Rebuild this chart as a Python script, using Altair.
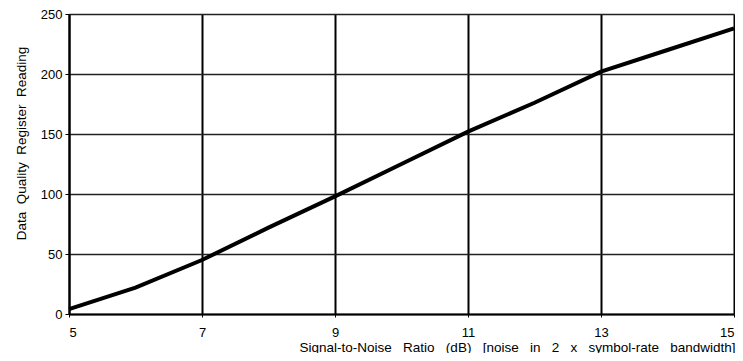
import altair as alt
import pandas as pd

snr = [5, 6, 7, 8, 9, 10, 11, 12, 13, 14, 15]
reading = [4, 22, 45, 72, 98, 125, 152, 176, 202, 220, 238]
x_ticks = [5, 7, 9, 11, 13, 15]
y_ticks = [0, 50, 100, 150, 200, 250]

NB = "\u00a0"
x_title_words = ["Signal-to-Noise", "Ratio", "(dB)", "[noise", "in", "2", "x",
                 "symbol-rate", "bandwidth]"]
y_title_words = ["Data", "Quality", "Register", "Reading"]
x_title = (NB + NB + " ").join(x_title_words)
y_title = (NB + " ").join(y_title_words)

df = pd.DataFrame({"snr": snr, "reading": reading})

FONT = "Liberation Sans"
W, H = 665, 300

chart = alt.Chart(df).mark_line(color="black", strokeWidth=4).encode(
    x=alt.X("snr:Q",
            scale=alt.Scale(domain=[5, 15], nice=False, zero=False),
            axis=alt.Axis(values=x_ticks, grid=True, gridColor="black",
                          gridWidth=2, domainColor="black", domainWidth=2,
                          tickColor="black", tickSize=3, labelFont=FONT, labelFontSize=13,
                          labelColor="black", labelPadding=9,
                          title=x_title,
                          titleFont=FONT, titleFontSize=13.5, titleFontWeight="normal",
                          titleColor="black", titleAnchor="end", titleAlign="right",
                          titleBaseline="alphabetic", titleX=W + 1, titleY=37)),
    y=alt.Y("reading:Q",
            scale=alt.Scale(domain=[0, 250], nice=False),
            axis=alt.Axis(values=y_ticks, grid=True, gridColor="#222222",
                          gridWidth=1.3, domainColor="black", domainWidth=2,
                          tickColor="black", tickSize=4, labelFont=FONT, labelFontSize=13,
                          labelColor="black", labelPadding=3,
                          title=y_title,
                          titleFont=FONT, titleFontSize=13.5, titleFontWeight="normal",
                          titleColor="black", titleAngle=-90, titleAlign="center",
                          titleBaseline="middle", titleX=-48, titleY=129)),
).properties(
    width=W, height=H,
    autosize=alt.AutoSizeParams(type="none"),
    padding={"left": 61, "top": 6, "right": 1, "bottom": 39},
).configure_view(stroke=None).configure(background="white")

chart.save("out.html", embed_options={"renderer": "svg", "actions": False})
